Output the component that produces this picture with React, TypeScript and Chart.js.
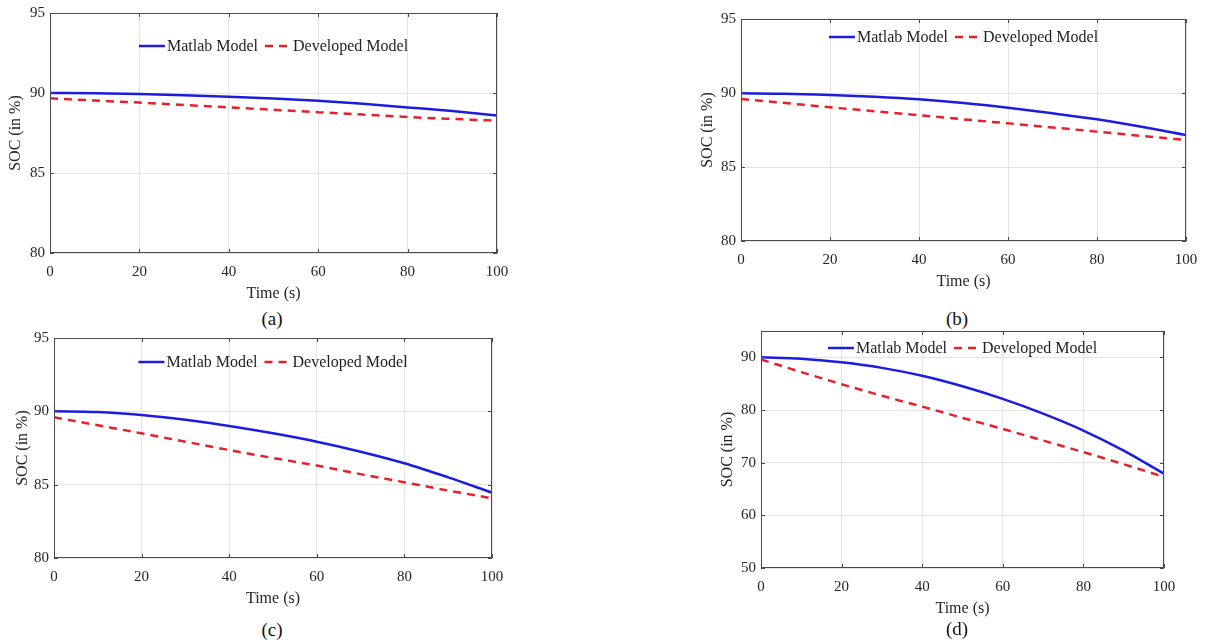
import React, { useEffect, useRef } from "react";
import { Chart, registerables } from "chart.js";
Chart.register(...registerables);

// ---------- data ----------
const TIME = [0, 10, 20, 30, 40, 50, 60, 70, 80, 90, 100];
const X_TICKS = [0, 20, 40, 60, 80, 100];
const Y_TICKS_ABC = [80, 85, 90, 95];
const Y_TICKS_D = [50, 60, 70, 80, 90];
const LEGEND_LABELS = ["Matlab Model", "Developed Model"];
const CAPTIONS = ["(a)", "(b)", "(c)", "(d)"];
const X_TITLE = "Time (s)";
const Y_TITLE = "SOC (in %)";

const MATLAB_A = [90.0, 89.98, 89.93, 89.86, 89.77, 89.66, 89.52, 89.33, 89.1, 88.87, 88.6];
const DEV_A = [89.67, 89.53, 89.4, 89.25, 89.1, 88.95, 88.8, 88.65, 88.5, 88.38, 88.27];

const MATLAB_B = [89.98, 89.95, 89.86, 89.74, 89.57, 89.32, 89.0, 88.63, 88.22, 87.72, 87.16];
const DEV_B = [89.6, 89.32, 89.03, 88.77, 88.5, 88.22, 87.95, 87.67, 87.39, 87.1, 86.82];

const MATLAB_C = [90.0, 89.95, 89.75, 89.42, 89.0, 88.5, 87.93, 87.25, 86.46, 85.5, 84.46];
const DEV_C = [89.6, 89.05, 88.5, 87.93, 87.36, 86.82, 86.3, 85.72, 85.16, 84.6, 84.07];

const MATLAB_D = [90.0, 89.75, 89.05, 88.0, 86.5, 84.5, 82.1, 79.3, 76.1, 72.3, 67.9];
const DEV_D = [89.6, 87.2, 84.9, 82.7, 80.65, 78.5, 76.4, 74.2, 72.0, 69.7, 67.3];

// ---------- styling / layout ----------
const FONT = "'Liberation Serif', 'Times New Roman', serif";
const BLUE = "#1c1ce0";
const RED = "#e8202a";

type Panel = {
  matlab: number[];
  dev: number[];
  yMin: number;
  yMax: number;
  yTicks: number[];
  area: { l: number; t: number; r: number; b: number };
  legendOffset: number;
  yTitlePad: number;
  caption: string;
  capX: number;
  capY: number;
};

const PANELS: Panel[] = [
  { matlab: MATLAB_A, dev: DEV_A, yMin: 80, yMax: 95, yTicks: Y_TICKS_ABC, area: { l: 50, t: 13, r: 497, b: 253 }, legendOffset: 33, yTitlePad: 6, caption: CAPTIONS[0], capX: 272, capY: 319 },
  { matlab: MATLAB_B, dev: DEV_B, yMin: 80, yMax: 95, yTicks: Y_TICKS_ABC, area: { l: 741, t: 19, r: 1186, b: 241 }, legendOffset: 18, yTitlePad: 7, caption: CAPTIONS[1], capX: 957, capY: 319 },
  { matlab: MATLAB_C, dev: DEV_C, yMin: 80, yMax: 95, yTicks: Y_TICKS_ABC, area: { l: 54, t: 338, r: 492, b: 558 }, legendOffset: 24, yTitlePad: 9, caption: CAPTIONS[2], capX: 272, capY: 630 },
  { matlab: MATLAB_D, dev: DEV_D, yMin: 50, yMax: 95, yTicks: Y_TICKS_D, area: { l: 761, t: 331, r: 1164, b: 568 }, legendOffset: 17, yTitlePad: 7, caption: CAPTIONS[3], capX: 957, capY: 629 },
];

const Y_AXIS_W = 50;
const X_AXIS_H = 50;
const PAD_TOP = 16;
const PAD_RIGHT = 25;

const framePlugin = {
  id: "frame",
  afterDatasetsDraw(chart: any) {
    const { ctx, chartArea: a, scales } = chart;
    ctx.save();
    ctx.strokeStyle = "#4a4a4a";
    ctx.lineWidth = 1;
    ctx.strokeRect(a.left + 0.5, a.top + 0.5, a.right - a.left - 1, a.bottom - a.top - 1);
    const tl = 4;
    ctx.beginPath();
    for (const t of scales.x.ticks) {
      const x = Math.round(scales.x.getPixelForValue(t.value)) + 0.5;
      ctx.moveTo(x, a.bottom);
      ctx.lineTo(x, a.bottom - tl);
      ctx.moveTo(x, a.top);
      ctx.lineTo(x, a.top + tl);
    }
    for (const t of scales.y.ticks) {
      const y = Math.round(scales.y.getPixelForValue(t.value)) + 0.5;
      ctx.moveTo(a.left, y);
      ctx.lineTo(a.left + tl, y);
      ctx.moveTo(a.right, y);
      ctx.lineTo(a.right - tl, y);
    }
    ctx.stroke();
    ctx.restore();
  },
};

const legendPlugin = {
  id: "innerLegend",
  afterDraw(chart: any, _args: any, opts: any) {
    const { ctx, chartArea: a } = chart;
    const ds = chart.data.datasets;
    ctx.save();
    ctx.font = `16px ${FONT}`;
    const sample = 26;
    const gapAfterSample = 2;
    const gapBetween = 7;
    const widths = ds.map((d: any) => ctx.measureText(d.label).width);
    let total = 0;
    widths.forEach((w: number, i: number) => {
      total += sample + gapAfterSample + w + (i < widths.length - 1 ? gapBetween : 0);
    });
    let x = (a.left + a.right) / 2 - total / 2;
    const y = a.top + opts.offset;
    ctx.textBaseline = "middle";
    ctx.textAlign = "left";
    ds.forEach((d: any, i: number) => {
      ctx.beginPath();
      ctx.strokeStyle = d.borderColor;
      ctx.lineWidth = d.borderWidth;
      ctx.setLineDash(d.borderDash || []);
      ctx.moveTo(x, y);
      ctx.lineTo(x + sample, y);
      ctx.stroke();
      ctx.setLineDash([]);
      x += sample + gapAfterSample;
      ctx.fillStyle = "#1e1e1e";
      ctx.fillText(d.label, x, y + 1);
      x += widths[i] + gapBetween;
    });
    ctx.restore();
  },
};

function PanelChart({ p }: { p: Panel }) {
  const ref = useRef<HTMLCanvasElement | null>(null);
  const width = p.area.r - p.area.l + Y_AXIS_W + PAD_RIGHT;
  const height = p.area.b - p.area.t + PAD_TOP + X_AXIS_H;
  useEffect(() => {
    if (!ref.current) return;
    const chart = new Chart(ref.current, {
      type: "line",
      data: {
        datasets: [
          {
            label: LEGEND_LABELS[0],
            data: TIME.map((t, i) => ({ x: t, y: p.matlab[i] })),
            borderColor: BLUE,
            borderWidth: 2.5,
            pointRadius: 0,
            cubicInterpolationMode: "monotone",
            fill: false,
          },
          {
            label: LEGEND_LABELS[1],
            data: TIME.map((t, i) => ({ x: t, y: p.dev[i] })),
            borderColor: RED,
            borderWidth: 2.5,
            borderDash: [8, 6],
            pointRadius: 0,
            cubicInterpolationMode: "monotone",
            fill: false,
          },
        ],
      },
      options: {
        animation: false,
        responsive: false,
        devicePixelRatio: 1,
        layout: { padding: { left: 0, top: PAD_TOP, right: PAD_RIGHT, bottom: 0 } },
        plugins: {
          legend: { display: false },
          tooltip: { enabled: false },
          innerLegend: { offset: p.legendOffset },
        } as any,
        scales: {
          x: {
            type: "linear",
            min: 0,
            max: 100,
            afterBuildTicks: (s: any) => {
              s.ticks = X_TICKS.map((v) => ({ value: v }));
            },
            afterFit: (s: any) => {
              s.height = X_AXIS_H;
            },
            grid: { color: "#e4e4e4", drawTicks: false, lineWidth: 1 },
            border: { display: false },
            ticks: { font: { family: FONT, size: 15 }, color: "#262626", padding: 10, maxRotation: 0 },
            title: { display: true, text: X_TITLE, font: { family: FONT, size: 16 }, color: "#262626", padding: { top: 0, bottom: 0 } },
          },
          y: {
            type: "linear",
            min: p.yMin,
            max: p.yMax,
            afterBuildTicks: (s: any) => {
              s.ticks = p.yTicks.map((v) => ({ value: v }));
            },
            afterFit: (s: any) => {
              s.width = Y_AXIS_W;
            },
            grid: { color: "#e4e4e4", drawTicks: false, lineWidth: 1 },
            border: { display: false },
            ticks: { font: { family: FONT, size: 15 }, color: "#262626", padding: 5 },
            title: { display: true, text: Y_TITLE, font: { family: FONT, size: 16 }, color: "#262626", padding: { top: p.yTitlePad, bottom: 0 } },
          },
        },
      },
      plugins: [framePlugin, legendPlugin],
    } as any);
    return () => chart.destroy();
  }, [p]);
  return (
    <canvas
      ref={ref}
      width={width}
      height={height}
      style={{ position: "absolute", left: p.area.l - Y_AXIS_W, top: p.area.t - PAD_TOP, width, height }}
    />
  );
}

export default function App() {
  return (
    <div style={{ position: "absolute", left: 0, top: 0, width: 1219, height: 643, background: "#fff", overflow: "hidden" }}>
      {PANELS.map((p, i) => (
        <React.Fragment key={i}>
          <PanelChart p={p} />
          <div
            style={{
              position: "absolute",
              left: p.capX - 30,
              top: p.capY - 12,
              width: 60,
              textAlign: "center",
              fontFamily: FONT,
              fontSize: 19,
              lineHeight: "24px",
              color: "#111",
            }}
          >
            {p.caption}
          </div>
        </React.Fragment>
      ))}
    </div>
  );
}
